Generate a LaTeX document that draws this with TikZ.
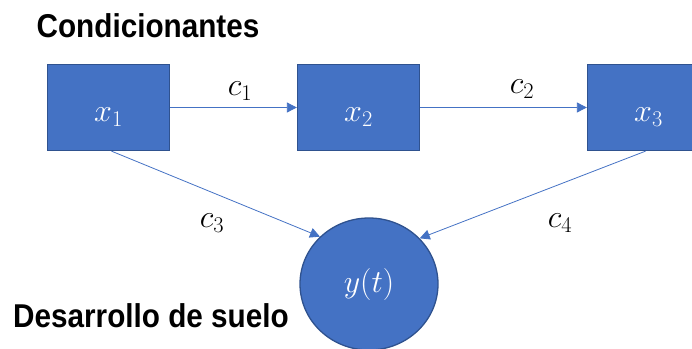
\RequirePackage{fix-cm}
\documentclass[tikz,border=0pt]{standalone}
\usepackage{amsmath}
\usepackage{fontspec}
\setsansfont[FakeStretch=0.9]{Liberation Sans}
\usetikzlibrary{shapes.geometric,arrows.meta}
\definecolor{boxblue}{HTML}{4472C4}
\definecolor{boxedge}{HTML}{2F528F}
\tikzset{
  varbox/.style={draw=boxedge,line width=1.3pt,fill=boxblue,text=white,
    minimum width=122pt,minimum height=86pt,inner sep=0pt,
    text height=28pt,text depth=0pt},
  outcome/.style={ellipse,draw=boxedge,line width=1.3pt,fill=boxblue,text=white,
    minimum width=138pt,minimum height=132pt,inner sep=0pt},
  link/.style={draw=boxblue,line width=0.8pt,-{Triangle[length=10pt,width=10pt]}},
  coef/.style={font=\fontsize{32}{38}\selectfont},
  heading/.style={font=\fontsize{33}{40}\selectfont\sffamily\bfseries}
}
\begin{document}
\begin{tikzpicture}[x=1pt,y=-1pt]
      \useasboundingbox (0,0) rectangle (692,348);
      \node[heading] (cond) at (148, 26) {Condicionantes};
      \node[heading] (des) at (151, 316) {Desarrollo de suelo};
      % variables
      \node[varbox,coef] (x1) at (108.5, 107.5) {$x_1$};
      \node[varbox,coef] (x2) at (358.5, 107.5) {$x_2$};
      \node[varbox,coef] (x3) at (648.5, 107.5) {$x_3$};
      \node[outcome,coef] (y) at (369, 284) {$y(t)$};
      % links
      \draw[link] (x1.south) ++(3,0) coordinate (s1) (s1) -- (y.136);
      \draw[link] (x1.east) -- (x2.west);
      \draw[link] (x2.east) -- (x3.west);
      \draw[link] (x3.south) ++(-3,0) coordinate (s3) (s3) -- (y.42);
      \node[coef] (c1) at (240, 91) {$c_1$};
      \node[coef] (c2) at (522, 89) {$c_2$};
      \node[coef] (c3) at (212, 223) {$c_3$};
      \node[coef] (c4) at (560, 223) {$c_4$};
    \end{tikzpicture}
\end{document}
